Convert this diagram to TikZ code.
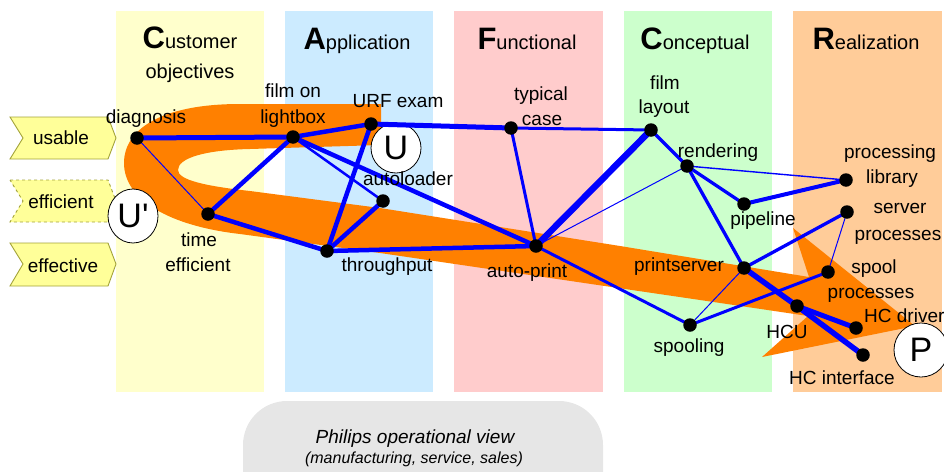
\documentclass[tikz,border=0pt]{standalone}
\usepackage{fontspec}
\setmainfont{Liberation Sans}
\newfontfamily\plainfont{Liberation Sans}[Ligatures=TeXOff]
\usetikzlibrary{shapes.geometric}
\definecolor{colY}{HTML}{FFFFCC}
\definecolor{colB}{HTML}{CCEBFF}
\definecolor{colF}{HTML}{FFCCCC}
\definecolor{colG}{HTML}{CCFFCC}
\definecolor{colR}{HTML}{FFCC99}
\definecolor{orng}{HTML}{FF8000}
\definecolor{chevF}{HTML}{FFFF99}
\definecolor{chevD}{HTML}{A3A33A}
\definecolor{stad}{HTML}{E6E6E6}
\begin{document}
\begin{tikzpicture}[x=1pt,y=-1pt,
  dotn/.style={circle, fill=black, inner sep=0pt, minimum size=13.5pt},
  lbl/.style={font=\fontsize{19}{22}\selectfont, anchor=base, inner sep=0pt},
  ttl/.style={anchor=base, inner sep=0pt},
  big/.style={circle, draw=black, fill=white, line width=0.8pt, inner sep=0pt, minimum size=50pt, font=\plainfont\fontsize{34}{34}\selectfont},
  chev/.style={fill=chevF, draw=chevD, line width=0.9pt, line join=miter},
  ln/.style={draw=blue, line width=#1},
]
\useasboundingbox (0,0) rectangle (944,471);
% columns
\fill[colY] (116,11) rectangle (264,392);
\fill[colB] (285,11) rectangle (433,392);
\fill[colF] (454,11) rectangle (603,392);
\fill[colG] (624,11) rectangle (772,392);
\fill[colR] (793,11) rectangle (942,392);
% titles
\node[ttl] (tC) at (190,48) {{\fontsize{31}{31}\selectfont\bfseries C}{\fontsize{20}{24}\selectfont ustomer}};
\node[ttl, font=\fontsize{20}{24}\selectfont] (tC2) at (190,78) {objectives};
\node[ttl] (tA) at (357,49) {{\fontsize{31}{31}\selectfont\bfseries A}{\fontsize{20}{24}\selectfont pplication}};
\node[ttl] (tF) at (527,49) {{\fontsize{31}{31}\selectfont\bfseries F}{\fontsize{20}{24}\selectfont unctional}};
\node[ttl] (tK) at (695,49) {{\fontsize{31}{31}\selectfont\bfseries C}{\fontsize{20}{24}\selectfont onceptual}};
\node[ttl] (tR) at (866,49) {{\fontsize{31}{31}\selectfont\bfseries R}{\fontsize{20}{24}\selectfont ealization}};
% bottom stadium
\fill[stad, rounded corners=44pt] (243,540) rectangle (603,401);
\node[ttl, font=\fontsize{19}{22}\selectfont\itshape] (op1) at (415,443) {Philips operational view};
\node[ttl, font=\fontsize{16}{19}\selectfont\itshape] (op2) at (414,463) {(manufacturing, service, sales)};
% chevrons
\draw[chev] (10,117) -- (108,117) -- (116,138) -- (108,159) -- (10,159) -- (23,138) -- cycle;
\draw[chev, dashed] (10,180) -- (108,180) -- (116,201) -- (108,222) -- (10,222) -- (23,201) -- cycle;
\draw[chev] (10,243) -- (108,243) -- (116,264) -- (108,286) -- (10,286) -- (23,264) -- cycle;
\node[lbl] (cu) at (61,144) {usable};
\node[lbl] (ce) at (61,208) {efficient};
\node[lbl] (cf) at (63,272) {effective};
% orange swoosh
\fill[orng] (381,104) -- (240,104)
  .. controls (160,104) and (124,130) .. (124,163)
  .. controls (124,200) and (170,226) .. (240,234)
  -- (380,253) -- (700,300) -- (808,316) -- (762,357) -- (915,326) -- (793,228) -- (809,277)
  -- (620,246) -- (380,208) -- (250,191)
  .. controls (205,186) and (178,180) .. (178,170)
  .. controls (178,158) and (205,150) .. (250,149)
  -- (381,145) -- cycle;
% big circles
\node[big, ellipse, minimum width=50pt, minimum height=54pt] (Up) at (133,216) {U'};
\node[big] (U) at (396,148) {U};
\node[big, minimum size=54pt] (P) at (921,350) {P};
% dot coordinates
\coordinate (dg) at (137,138);
\coordinate (te) at (208,214);
\coordinate (fl) at (293,137);
\coordinate (ur) at (371,124);
\coordinate (al) at (383,201);
\coordinate (th) at (327,251);
\coordinate (tc) at (511,128);
\coordinate (ap) at (536,246);
\coordinate (ly) at (651,130);
\coordinate (rd) at (687,166);
\coordinate (pl) at (744,204);
\coordinate (pr) at (846,180);
\coordinate (sv) at (847,212);
\coordinate (ps) at (744,268);
\coordinate (sp) at (828,272);
\coordinate (sg) at (690,325);
\coordinate (hcu) at (797,306);
\coordinate (hd) at (856,328);
\coordinate (hi) at (863,355);
% connectors
\draw[ln=5pt] (dg) -- (fl);
\draw[ln=1pt] (dg) -- (te);
\draw[ln=4.5pt] (te) -- (fl);
\draw[ln=4.5pt] (te) -- (th);
\draw[ln=4.5pt] (fl) -- (ur);
\draw[ln=2.5pt] (fl) -- (al);
\draw[ln=4.5pt] (fl) -- (ap);
\draw[ln=4.5pt] (ur) -- (th);
\draw[ln=5pt] (ur) -- (tc);
\draw[ln=3pt] (tc) -- (ly);
\draw[ln=4.5pt] (al) -- (th);
\draw[ln=4.5pt] (th) -- (ap);
\draw[ln=3pt] (tc) -- (ap);
\draw[ln=6.5pt] (ap) -- (ly);
\draw[ln=1pt] (ap) -- (rd);
\draw[ln=3pt] (ap) -- (sg);
\draw[ln=3.3pt] (ly) -- (rd);
\draw[ln=3.3pt] (rd) -- (pl);
\draw[ln=1.4pt] (rd) -- (pr);
\draw[ln=3.3pt] (rd) -- (ps);
\draw[ln=4pt] (pl) -- (pr);
\draw[ln=3.3pt] (ps) -- (sv);
\draw[ln=1pt] (ps) -- (sg);
\draw[ln=5.5pt] (ps) -- (hcu);
\draw[ln=5.5pt] (hcu) -- (hi);
\draw[ln=5pt] (hcu) -- (hd);
\draw[ln=3pt] (sg) -- (sp);
\draw[ln=1pt] (sv) -- (sp);
% dots
\foreach \n in {dg,te,fl,ur,al,th,tc,ap,ly,rd,pl,pr,sv,ps,sp,sg,hcu,hd,hi}
  \node[dotn] (\n-dot) at (\n) {};
% labels
\node[lbl] (Ldg) at (146,123) {diagnosis};
\node[lbl] (Lte1) at (199,246) {time};
\node[lbl] (Lte2) at (198,271) {efficient};
\node[lbl] (Lfl1) at (293,97) {film on};
\node[lbl] (Lfl2) at (293,123) {lightbox};
\node[lbl] (Lur) at (398,107) {URF exam};
\node[lbl] (Lal) at (408,185) {autoloader};
\node[lbl] (Lth) at (387,271) {throughput};
\node[lbl] (Ltc1) at (541,100) {typical};
\node[lbl] (Ltc2) at (542,125) {case};
\node[lbl] (Lap) at (527,277) {auto-print};
\node[lbl] (Lly1) at (665,89) {film};
\node[lbl] (Lly2) at (664,113) {layout};
\node[lbl] (Lrd) at (718,157) {rendering};
\node[lbl] (Lpl) at (763,225) {pipeline};
\node[lbl] (Lpr1) at (890,158) {processing};
\node[lbl] (Lpr2) at (892,183) {library};
\node[lbl] (Lsv1) at (900,213) {server};
\node[lbl] (Lsv2) at (898,240) {processes};
\node[lbl] (Lps) at (679,271) {printserver};
\node[lbl] (Lsp1) at (874,273) {spool};
\node[lbl] (Lsp2) at (871,298) {processes};
\node[lbl, anchor=base west] (Lhd) at (864,322) {HC driver};
\node[lbl] (Lhcu) at (787,338) {HCU};
\node[lbl] (Lhi) at (842,384) {HC interface};
\node[lbl] (Lsg) at (689,352) {spooling};
\end{tikzpicture}
\end{document}
